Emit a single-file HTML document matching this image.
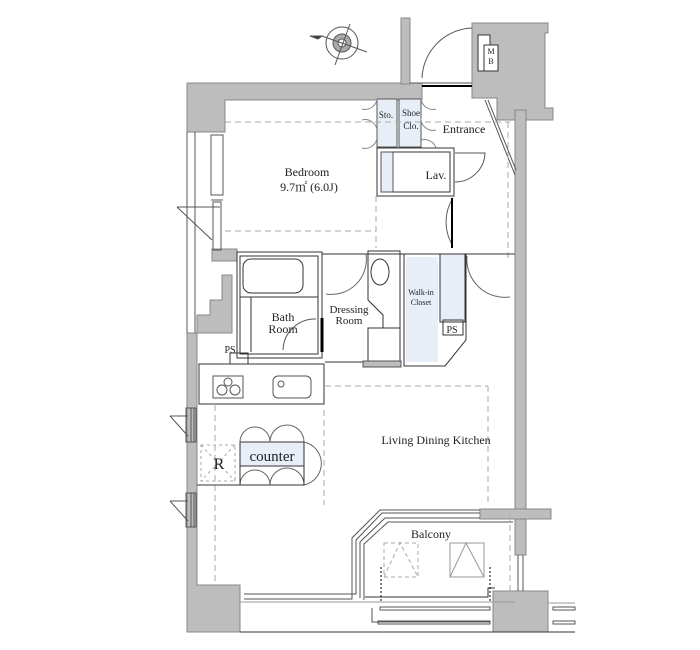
<!DOCTYPE html>
<html><head><meta charset="utf-8"><style>
html,body{margin:0;padding:0;background:#fff;}
svg{display:block;font-family:"Liberation Serif","Noto Serif CJK SC",serif;}
</style></head><body>
<svg width="700" height="650" viewBox="0 0 700 650" xmlns="http://www.w3.org/2000/svg">
<g fill="#bdbdbd" stroke="#888" stroke-width="1">
<path d="M187 83 H422 V100 H225 V132 H187 Z"/>
<rect x="401" y="18" width="9" height="66"/>
<path d="M472 23 H548 V33 H545 V108 H553 V120 H497 V98 H472 Z"/>
<rect x="515" y="110" width="11" height="445"/>
<rect x="480" y="509" width="71" height="10"/>
<path d="M187 333 H197 V585 H240 V632 H187 Z"/>
<path d="M210 300 H222 V275 H232 V333 H197 V315 H210 Z"/>
<rect x="212" y="249" width="25" height="12"/>
<rect x="493" y="591" width="55" height="41"/>
</g>
<g fill="#fff" stroke="#333" stroke-width="1">
<rect x="478" y="35" width="12" height="36"/>
<rect x="484" y="45" width="14" height="26"/>
</g>
<g fill="none" stroke="#555" stroke-width="1">
<circle cx="342" cy="43" r="16"/>
<circle cx="342" cy="43" r="9" fill="#aaa"/>
<circle cx="342" cy="43" r="4" fill="#fff"/>
<line x1="322" y1="36" x2="367" y2="52"/>
<line x1="350" y1="24" x2="335" y2="65"/>
<path d="M310 36 L322 36 L318 39 Z" fill="#333"/>
<path d="M422 78 A52 52 0 0 1 472 28"/>
<line x1="410" y1="83" x2="472" y2="83"/>
<line x1="422" y1="86" x2="472" y2="86" stroke="#000" stroke-width="2"/>
<line x1="485" y1="100" x2="515" y2="175"/>
<line x1="488" y1="100" x2="516" y2="170"/>
<line x1="187" y1="132" x2="187" y2="333"/>
<line x1="195" y1="132" x2="195" y2="333"/>
<rect x="211" y="135" width="12" height="60"/>
<line x1="211" y1="200" x2="223" y2="200"/>
<rect x="213" y="202" width="8" height="48"/>
<line x1="177" y1="207" x2="212" y2="240"/>
<line x1="177" y1="207" x2="220" y2="207"/>
<rect x="377" y="99" width="20" height="48" fill="#e8eef8"/>
<rect x="399" y="99" width="22" height="48" fill="#e8eef8"/>
<path d="M377 99 A12 12 0 0 1 362 109 M377 130 A12 12 0 0 0 362 120 M377 138 A12 12 0 0 1 362 148 M421 99 A12 12 0 0 0 436 109 M421 118 A12 12 0 0 0 436 130 M421 140 A12 12 0 0 1 436 148" stroke="#888"/>
<rect x="377" y="148" width="77" height="48" stroke="#333"/>
<rect x="381" y="152" width="69" height="40" stroke="#333"/>
<rect x="381" y="152" width="12" height="40" fill="#e8eef8"/>
<path d="M455 153 L485 153 A30 30 0 0 1 455 182"/>
<path d="M453 198 A45 45 0 0 0 453 246" stroke="#666"/>
<line x1="452" y1="198" x2="452" y2="248" stroke="#000" stroke-width="2"/>
<g stroke="#aaa" stroke-dasharray="6,4">
<line x1="225" y1="122" x2="510" y2="122"/>
<line x1="225" y1="231" x2="376" y2="231"/>
<line x1="376" y1="196" x2="376" y2="248"/>
<line x1="508" y1="122" x2="508" y2="260"/>
<line x1="325" y1="386" x2="488" y2="386"/>
<line x1="488" y1="386" x2="488" y2="505"/>
<line x1="215" y1="405" x2="215" y2="585"/>
<line x1="324" y1="410" x2="324" y2="505"/>
<line x1="510" y1="515" x2="510" y2="595"/>
</g>
<rect x="237" y="252" width="85" height="106" stroke="#333"/>
<rect x="240" y="256" width="78" height="98" stroke="#333"/>
<rect x="243" y="259" width="60" height="34" rx="8" stroke="#333"/>
<line x1="240" y1="297" x2="318" y2="297" stroke="#333"/>
<line x1="251" y1="297" x2="251" y2="352" stroke="#333"/>
<path d="M283 350 A32 32 0 0 1 316 319"/>
<line x1="322" y1="318" x2="322" y2="352" stroke="#000" stroke-width="3"/>
<line x1="322" y1="254" x2="515" y2="254" stroke="#333"/>
<path d="M366 254 A35 35 0 0 1 326 294" stroke="#666"/>
<path d="M368 251 H400 V362 H368 V328 H383 V315 L368 300 Z" stroke="#333"/>
<rect x="368" y="328" width="32" height="34" stroke="#333"/>
<ellipse cx="380" cy="272" rx="9" ry="13" stroke="#333"/>
<line x1="325" y1="362" x2="400" y2="362" stroke="#333"/>
<rect x="363" y="361" width="38" height="6" fill="#bdbdbd"/>
<path d="M404 254 H466 V340 L445 366 H404 Z" stroke="#333"/>
<rect x="406" y="257" width="32" height="105" fill="#e8eef8" stroke="none"/>
<rect x="440" y="254" width="25" height="68" fill="#e8eef8" stroke="#333"/>
<rect x="443" y="320" width="20" height="15" stroke="#333"/>
<path d="M467 256 A38 38 0 0 0 510 297" stroke="#666"/>
<rect x="199" y="364" width="125" height="40" stroke="#333"/>
<rect x="213" y="376" width="30" height="22"/>
<circle cx="222" cy="390" r="5"/><circle cx="235" cy="390" r="5"/><circle cx="228" cy="382" r="4"/>
<rect x="273" y="376" width="38" height="22" rx="5"/>
<circle cx="281" cy="384" r="3"/>
<rect x="230" y="353" width="18" height="11" stroke="#333"/>
<rect x="240" y="442" width="64" height="24" fill="#e8eef8" stroke="#333"/>
<path d="M240 442 A15 15 0 0 1 270 442 A15 15 0 0 1 304 442" stroke="#666"/>
<path d="M240 485 A15 15 0 0 1 270 485 A15 15 0 0 1 304 485" stroke="#666"/>
<path d="M304 442 A22 22 0 0 1 304 485" stroke="#666"/>
<rect x="240" y="466" width="64" height="19" stroke="#333"/>
<rect x="201" y="445" width="34" height="36" stroke="#aaa" stroke-dasharray="3,3"/>
<line x1="201" y1="445" x2="235" y2="481" stroke="#aaa" stroke-dasharray="3,3"/>
<line x1="235" y1="445" x2="201" y2="481" stroke="#aaa" stroke-dasharray="3,3"/>
<line x1="197" y1="485" x2="240" y2="485" stroke="#333"/>
<rect x="186" y="408" width="8" height="34"/><rect x="191" y="408" width="5" height="34"/>
<line x1="170" y1="416" x2="188" y2="436"/><line x1="170" y1="416" x2="188" y2="416"/>
<rect x="186" y="493" width="8" height="34"/><rect x="191" y="493" width="5" height="34"/>
<line x1="170" y1="501" x2="188" y2="521"/><line x1="170" y1="501" x2="188" y2="501"/>
<path d="M244 599 H352 V538 L380 510 H480" stroke="#555"/>
<path d="M244 594 H356 V540 L382 513 H480"/>
<path d="M360 598 V542 L385 518 H480"/>
<path d="M364 600 V544 L388 522 H513"/>
<line x1="240" y1="602" x2="515" y2="602" stroke="#999"/>
<path d="M365 597 H488 V588 H495" stroke="#333"/>
<rect x="384" y="543" width="34" height="34" stroke="#aaa" stroke-dasharray="4,3"/>
<path d="M384 577 L400 543 L418 577" stroke="#aaa" stroke-dasharray="4,3"/>
<rect x="450" y="543" width="34" height="34" stroke="#999"/>
<path d="M450 577 L466 543 L484 577" stroke="#999"/>
<line x1="381" y1="567" x2="381" y2="602" stroke="#000" stroke-dasharray="2,2"/>
<line x1="490" y1="567" x2="490" y2="602" stroke="#000" stroke-dasharray="2,2"/>
<rect x="380" y="607" width="110" height="3"/>
<path d="M372 608 V622 H490"/><rect x="378" y="621" width="112" height="3"/>
<line x1="240" y1="632" x2="575" y2="632" stroke="#333"/>
<line x1="548" y1="603" x2="575" y2="603" stroke="#999"/>
<rect x="553" y="607" width="22" height="3"/><rect x="553" y="621" width="22" height="3"/>
<line x1="518" y1="555" x2="518" y2="591"/><line x1="523" y1="555" x2="523" y2="591"/>
</g>
<g fill="#222" font-size="12" text-anchor="middle">
<text x="307" y="176">Bedroom</text>
<text x="309" y="191">9.7㎡ (6.0J)</text>
<text x="386" y="118" font-size="9">Sto.</text>
<text x="411" y="116" font-size="9">Shoe</text>
<text x="411" y="129" font-size="9">Clo.</text>
<text x="464" y="133">Entrance</text>
<text x="436" y="179">Lav.</text>
<text x="421" y="295" font-size="8">Walk-in</text>
<text x="421" y="305" font-size="8">Closet</text>
<text x="452" y="333" font-size="10">PS</text>
<text x="283" y="321">Bath</text>
<text x="283" y="333">Room</text>
<text x="349" y="313" font-size="11">Dressing</text>
<text x="349" y="324" font-size="11">Room</text>
<text x="230" y="353" font-size="10">PS</text>
<text x="436" y="444">Living Dining Kitchen</text>
<text x="219" y="469" font-size="16">R</text>
<text x="272" y="461" font-size="15">counter</text>
<text x="431" y="538">Balcony</text>
<text x="491" y="54" font-size="8">M</text>
<text x="491" y="64" font-size="8">B</text>
</g>
</svg>
</body></html>
